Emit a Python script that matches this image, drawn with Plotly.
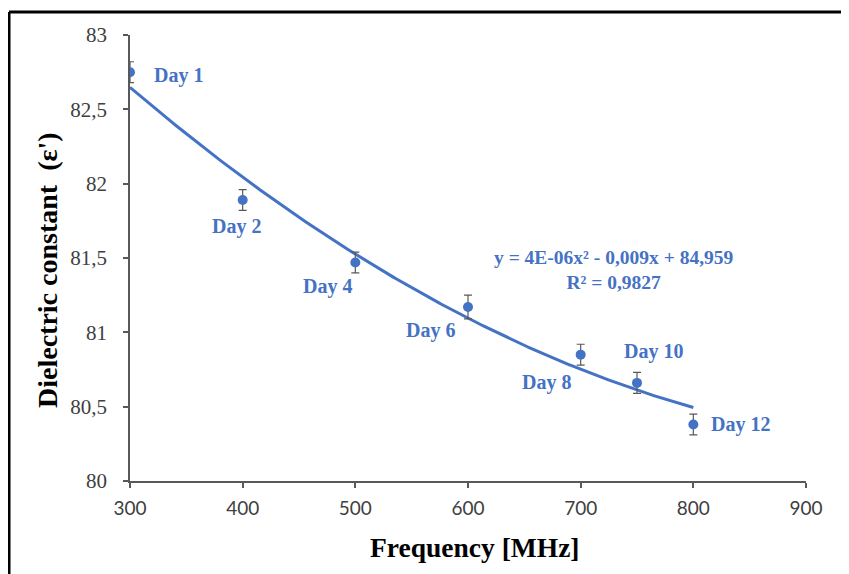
import numpy as np
import plotly.graph_objects as go

frequency = [300, 400, 500, 600, 700, 750, 800]
dielectric = [82.75, 81.89, 81.47, 81.17, 80.85, 80.66, 80.38]
error = [0.07, 0.07, 0.07, 0.08, 0.07, 0.07, 0.07]
day_labels = ["Day 1", "Day 2", "Day 4", "Day 6", "Day 8", "Day 10", "Day 12"]
y_tickvals = [80, 80.5, 81, 81.5, 82, 82.5, 83]
y_ticktext = ["80", "80,5", "81", "81,5", "82", "82,5", "83"]
x_tickvals = [300, 400, 500, 600, 700, 800, 900]
equation_text = "y = 4E-06x² - 0,009x + 84,959<br>R² = 0,9827"
x_title = "Frequency [MHz]"
y_title = "Dielectric constant\u00a0\u00a0(ε')"

BLUE = "#4472C4"
AXIS = "#595959"

# second-order polynomial trendline fitted to the data
coef = np.polyfit(frequency, dielectric, 2)
xt = np.linspace(min(frequency), max(frequency), 200)
yt = np.polyval(coef, xt)

fig = go.Figure()
fig.add_trace(go.Scatter(x=xt, y=yt, mode="lines",
                         line=dict(color=BLUE, width=3), hoverinfo="skip",
                         showlegend=False))
fig.add_trace(go.Scatter(x=frequency, y=dielectric, mode="markers",
                         marker=dict(color=BLUE, size=10),
                         error_y=dict(type="data", array=error, color=AXIS,
                                      thickness=1.2, width=4),
                         showlegend=False))

# label offsets (px) relative to each point
offsets = [(22, -3, "left"), (-6, -26, "center"), (-28, -24, "center"),
           (-38, -23, "center"), (-34, -28, "center"), (16, 31, "center"),
           (16, 0, "left")]
for fx, fy, lab, (dx, dy, anc) in zip(frequency, dielectric, day_labels, offsets):
    fig.add_annotation(x=fx, y=fy, text=lab, showarrow=False, xanchor=anc,
                       yanchor="middle", xshift=dx, yshift=dy,
                       font=dict(family="Liberation Serif", size=20,
                                 color=BLUE, weight="bold"))

fig.add_annotation(x=730, y=81.42, text=equation_text, showarrow=False,
                   xanchor="center", yanchor="middle", align="center",
                   font=dict(family="Liberation Serif", size=19.5, color=BLUE,
                             weight="bold"))

# page has an 8px body margin: positions below are in figure pixels
W, H = 849, 574
L, R, T, B = 122, 51, 27, 101
pw, ph = W - L - R, H - T - B

def px_x(p):
    return (p - L) / pw

def px_y(p):
    return (H - B - p) / ph

# axis titles
fig.add_annotation(xref="paper", yref="paper", x=px_x(39), y=px_y(262),
                   text="<b>" + y_title + "</b>",
                   textangle=-90, showarrow=False, xanchor="center",
                   yanchor="middle",
                   font=dict(family="Liberation Serif", size=28,
                             color="black"))
fig.add_annotation(xref="paper", yref="paper", x=px_x(467), y=px_y(539),
                   text="<b>" + x_title + "</b>", showarrow=False,
                   xanchor="center", yanchor="middle",
                   font=dict(family="Liberation Serif", size=27.5,
                             color="black"))

# outer frame (left and top edges visible)
fig.add_shape(type="line", xref="paper", yref="paper",
              x0=px_x(1), x1=px_x(W + 5), y0=px_y(4), y1=px_y(4),
              line=dict(color="black", width=3))
fig.add_shape(type="line", xref="paper", yref="paper",
              x0=px_x(1), x1=px_x(1), y0=px_y(4), y1=px_y(H + 5),
              line=dict(color="black", width=3))

fig.update_layout(
    width=W, height=H,
    margin=dict(l=L, r=R, t=T, b=B),
    paper_bgcolor="white", plot_bgcolor="white",
    xaxis=dict(range=[300, 900], tickvals=x_tickvals, showgrid=False,
               zeroline=False, showline=True, linecolor=AXIS, linewidth=1.5,
               ticks="outside", ticklen=5, tickcolor=AXIS, tickwidth=1.5,
               ticklabelstandoff=4,
               tickfont=dict(family="Lato", size=19, color="#404040")),
    yaxis=dict(range=[80, 83], tickvals=y_tickvals, ticktext=y_ticktext,
               showgrid=False, zeroline=False, showline=True, linecolor=AXIS,
               linewidth=1.5, ticks="outside", ticklen=5, tickcolor=AXIS,
               tickwidth=1.5, ticklabelstandoff=12,
               tickfont=dict(family="Liberation Serif", size=21,
                             color="#404040")),
)

fig.write_html("out.html")
